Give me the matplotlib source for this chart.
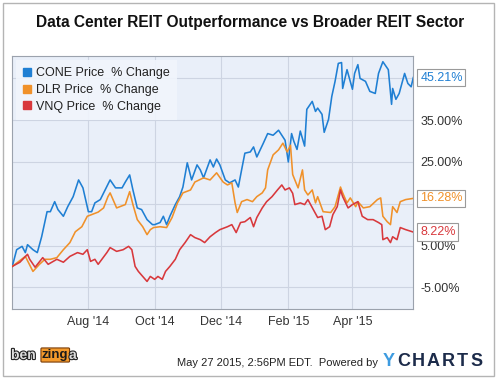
import numpy as np
import matplotlib
matplotlib.use("Agg")
import matplotlib.pyplot as plt
import matplotlib.patheffects as pe
from matplotlib.lines import Line2D
from matplotlib.patches import Rectangle

plt.rcParams['font.family'] = ['Liberation Sans', 'DejaVu Sans']

# days counted from 2014-05-23, values in % change
start = np.datetime64('2014-05-23')
span_days = 369

cone_day = [0, 4, 9, 12, 14, 19, 23, 27, 32, 35, 39, 42, 47, 51, 56, 61, 65, 70, 73, 76,
            81, 90, 95, 101, 104, 108, 111, 115, 119, 124, 129, 131, 136, 139, 142, 145,
            150, 154, 157, 161, 165, 170, 173, 176, 182, 185, 188, 191, 196, 200, 205,
            208, 211, 214, 219, 222, 225, 231, 235, 240, 245, 248, 251, 254, 257, 259,
            262, 265, 269, 271, 276, 279, 281, 285, 287, 291, 294, 297, 300, 303, 304,
            308, 313, 315, 318, 320, 325, 329, 334, 337, 341, 346, 349, 350, 353, 356,
            361, 364, 367, 369]
cone_pct = [0.0, 4.0, 4.8, 3.3, 5.2, 4.0, 3.3, 7.1, 13.1, 13.1, 15.5, 13.6, 12.0, 14.3,
            16.7, 20.7, 18.8, 13.1, 13.1, 15.2, 16.0, 20.7, 18.8, 18.8, 20.2, 21.9, 18.3,
            14.0, 13.6, 11.2, 10.0, 10.0, 10.5, 12.0, 10.0, 12.0, 14.8, 16.7, 19.0, 24.8,
            20.7, 24.3, 23.1, 21.2, 25.5, 23.8, 25.7, 24.3, 20.7, 20.0, 20.7, 19.0, 23.1,
            27.1, 27.4, 28.6, 26.2, 29.5, 31.8, 31.4, 32.6, 31.4, 30.2, 25.0, 31.8, 30.0,
            28.0, 32.4, 28.8, 37.6, 39.5, 37.1, 37.9, 36.4, 32.1, 35.2, 40.7, 44.3, 48.6,
            48.8, 42.6, 47.1, 42.4, 46.2, 48.3, 45.0, 44.3, 41.9, 41.4, 46.2, 49.0, 47.1,
            38.8, 42.6, 40.0, 41.4, 46.2, 43.8, 43.0, 45.21]

dlr_day = [0, 12, 19, 25, 30, 35, 41, 47, 53, 58, 64, 69, 73, 79, 84, 88, 90, 96, 104,
           108, 111, 115, 120, 124, 127, 130, 136, 142, 147, 152, 157, 164, 168, 176,
           182, 188, 194, 198, 202, 205, 207, 211, 216, 221, 225, 230, 233, 235, 240,
           245, 249, 253, 256, 258, 260, 263, 267, 269, 272, 276, 279, 281, 286, 293,
           297, 302, 304, 308, 311, 316, 318, 323, 329, 336, 339, 341, 345, 348, 350,
           354, 357, 362, 369]
dlr_pct = [0.0, 2.4, -1.2, 0.5, 1.7, 1.7, 2.1, 4.0, 5.7, 8.3, 9.5, 12.0, 12.4, 13.0,
           14.0, 16.7, 17.6, 14.0, 14.8, 17.9, 14.8, 11.2, 9.5, 7.6, 8.8, 9.3, 9.5, 9.3,
           11.7, 15.2, 17.6, 18.3, 20.2, 21.2, 20.7, 22.4, 20.2, 19.5, 20.0, 15.2, 12.9,
           15.5, 16.0, 15.5, 16.7, 17.6, 18.8, 23.1, 26.7, 27.9, 29.5, 27.4, 29.0, 22.0,
           20.7, 18.8, 23.1, 18.3, 17.1, 18.3, 15.2, 16.7, 13.1, 12.9, 14.3, 19.0, 17.6,
           15.2, 16.4, 14.3, 15.5, 14.0, 14.3, 16.0, 16.4, 12.0, 10.7, 10.0, 14.3, 12.9,
           15.5, 16.0, 16.28]

vnq_day = [0, 7, 14, 16, 21, 28, 33, 41, 47, 53, 60, 65, 69, 72, 76, 79, 87, 90, 96,
           102, 107, 110, 113, 116, 120, 124, 127, 131, 134, 138, 141, 145, 150, 154,
           159, 164, 168, 173, 177, 182, 187, 191, 198, 202, 206, 210, 214, 219, 222,
           225, 230, 234, 239, 244, 248, 251, 255, 258, 260, 265, 269, 272, 277, 281,
           285, 288, 292, 295, 299, 302, 304, 309, 313, 318, 322, 327, 332, 337, 340,
           341, 345, 348, 350, 354, 357, 362, 369]
vnq_pct = [0.0, 1.0, 2.9, 1.7, -0.2, 2.1, 0.5, 1.7, 1.0, 2.4, 3.3, 2.9, 4.0, 1.2, 1.7,
           0.5, 3.3, 4.5, 3.6, 4.0, 4.8, 4.0, 0.0, -1.2, -2.4, -3.6, -2.4, -3.1, -2.4,
           -3.1, -1.2, 0.0, 1.7, 4.0, 5.7, 7.6, 6.9, 6.4, 5.7, 7.1, 8.1, 8.8, 9.5, 10.0,
           8.1, 10.5, 10.7, 11.7, 9.5, 11.7, 14.0, 15.5, 16.7, 18.3, 19.5, 18.3, 18.8,
           17.5, 14.8, 15.2, 14.8, 16.0, 13.6, 11.7, 12.0, 8.8, 9.5, 12.4, 14.3, 18.3,
           16.7, 14.0, 14.8, 15.5, 12.0, 11.2, 11.2, 10.5, 10.0, 6.4, 6.9, 5.7, 7.1, 6.4,
           9.3, 8.8, 8.22]

series_names = ["CONE Price  % Change", "DLR Price  % Change", "VNQ Price  % Change"]
series_colors = ["#1f7fd3", "#f0912a", "#d8383c"]
end_labels = ["45.21%", "16.28%", "8.22%"]

# 45% and 15% sit under the value tags, so their labels are left empty
ytick_vals = [-5, 5, 15, 25, 35, 45]
ytick_labels = ["-5.00%", "5.00%", "", "25.00%", "35.00%", ""]
xtick_dates = ['2014-08-01', '2014-10-01', '2014-12-01', '2015-02-01', '2015-04-01']
xtick_labels = ["Aug '14", "Oct '14", "Dec '14", "Feb '15", "Apr '15"]


def to_dates(days):
    return start + np.array(days).astype('timedelta64[D]')


fig = plt.figure(figsize=(5.0, 3.79), dpi=100)
fig.patch.set_facecolor('white')
fig.patches.append(Rectangle((3 / 500, 3 / 379), 491 / 500, 373 / 379, transform=fig.transFigure,
                             fill=False, edgecolor='#b4b4b4', linewidth=1.0))

fig.text(0.5, 1 - 22 / 379, "Data Center REIT Outperformance vs Broader REIT Sector",
         ha='center', va='center', fontsize=11.2, fontweight='bold', color='#111111')

ax = fig.add_axes([12.3 / 500, 1 - 309.3 / 379, 401 / 500, (309.3 - 56) / 379])
ax.set_facecolor('#e9eff9')

days_all = [cone_day, dlr_day, vnq_day]
pct_all = [cone_pct, dlr_pct, vnq_pct]
for i in range(3):
    ax.plot(to_dates(days_all[i]), pct_all[i], color=series_colors[i], linewidth=1.15,
            solid_joinstyle='round', zorder=3)

ax.set_xlim(start, start + np.timedelta64(span_days, 'D'))
ax.set_ylim(-10.27, 50.37)

ax.set_xticks(np.array(xtick_dates, dtype='datetime64[D]'))
ax.set_xticklabels(xtick_labels)
ax.set_yticks(ytick_vals)
ax.set_yticklabels(ytick_labels)
ax.yaxis.tick_right()
ax.tick_params(axis='both', length=0, labelsize=9, colors='#333333')
ax.tick_params(axis='y', pad=5)
ax.tick_params(axis='x', pad=5)
ax.grid(True, color='#cdd4e2', linewidth=0.8)
ax.set_axisbelow(True)
for s in ax.spines.values():
    s.set_color('#9ba2ad')
    s.set_linewidth(0.8)

# value tags at the right edge
for i in range(3):
    ax.annotate(end_labels[i], xy=(1.0, pct_all[i][-1]), xycoords=('axes fraction', 'data'),
                xytext=(5, 0), textcoords='offset points', ha='left', va='center',
                fontsize=9, color=series_colors[i], zorder=5, annotation_clip=False,
                bbox=dict(boxstyle='square,pad=0.22', fc='white', ec='#9a9a9a', lw=0.8))

handles = [Line2D([], [], linestyle='none', marker='s', markersize=6,
                  markerfacecolor=c, markeredgecolor=c) for c in series_colors]
leg = ax.legend(handles, series_names, loc='upper left', bbox_to_anchor=(0.0, 1.0),
                fontsize=9, frameon=True, fancybox=False, handlelength=0.6,
                handletextpad=0.4, labelspacing=0.38, borderpad=0.6, borderaxespad=0.3)
leg.get_frame().set_facecolor('#f1f5fc')
leg.get_frame().set_edgecolor('none')
leg.get_frame().set_alpha(0.9)
for t in leg.get_texts():
    t.set_color('#222222')

# footer
fig.text(378 / 500, 1 - 363 / 379, "May 27 2015, 2:56PM EDT.  Powered by",
         ha='right', va='center', fontsize=8, color='#222222')
yc_letters = "YCHARTS"
yc_x = [389, 404, 418, 433, 448, 462, 477]
for i in range(len(yc_letters)):
    col = '#3d9be0' if i == 0 else '#1c2b4a'
    fig.text(yc_x[i] / 500, 1 - 362 / 379, yc_letters[i], ha='center', va='center',
             fontsize=13, fontweight='bold', color=col)

outline = [pe.withStroke(linewidth=1.6, foreground='#222222')]
fig.text(11 / 500, 1 - 355 / 379, "ben", ha='left', va='center', fontsize=10,
         fontweight='bold', color='#dcdcdc', path_effects=outline)
fig.text(42 / 500, 1 - 355 / 379, "zing", ha='left', va='center', fontsize=9.5,
         fontweight='bold', color='#1a1a1a',
         bbox=dict(boxstyle='round,pad=0.08', fc='#f39a2c', ec='#7a3d0a', lw=0.8))
fig.text(69 / 500, 1 - 355 / 379, "a", ha='left', va='center', fontsize=10,
         fontweight='bold', color='#dcdcdc', path_effects=outline)

fig.savefig("out.png", dpi=100, facecolor='white')
